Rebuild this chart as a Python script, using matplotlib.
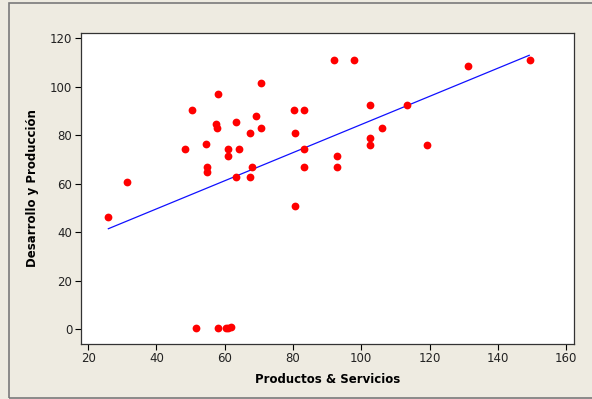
import matplotlib
matplotlib.use("Agg")
import matplotlib.pyplot as plt
from matplotlib.patches import Rectangle

# datos
prod_serv = [25.9, 31.3, 48.3, 50.4, 54.6, 54.9, 54.9, 57.9, 57.3, 57.6,
             60.9, 60.9, 63.4, 64.3, 63.4, 67.3, 67.9, 67.3, 69.1, 70.6,
             70.6, 80.3, 83.3, 80.6, 83.3, 83.3, 80.6, 92.1, 97.9, 102.6,
             93.0, 93.0, 102.6, 102.6, 106.1, 113.5, 119.3, 131.4, 149.5,
             51.5, 57.9, 60.3, 61.0, 61.8]
des_prod = [46.4, 60.9, 74.2, 90.3, 76.3, 66.9, 64.7, 97.2, 84.8, 82.9,
            74.2, 71.5, 85.6, 74.2, 62.7, 80.8, 66.9, 62.7, 88.0, 101.7,
            83.0, 90.3, 90.3, 80.8, 74.2, 66.9, 50.8, 111.1, 111.1, 92.4,
            71.6, 66.9, 78.8, 76.1, 83.0, 92.4, 76.1, 108.6, 111.1,
            0.5, 0.5, 0.5, 0.6, 1.0]

# recta de regresion (extremos)
fit_x = [25.9, 149.2]
fit_y = [41.5, 113.0]

xticks = [20, 40, 60, 80, 100, 120, 140, 160]
yticks = [0, 20, 40, 60, 80, 100, 120]

bg = "#eeebe1"
fig = plt.figure(figsize=(5.92, 3.99), dpi=100, facecolor=bg)
ax = fig.add_axes([0.1363, 0.1386, 0.8338, 0.7794])
ax.set_facecolor("white")

# marco gris de la figura (sin lado derecho visible)
fig.patches.append(Rectangle((9/592, 1.3/399), 1.2, 395/399, transform=fig.transFigure,
                             fill=False, edgecolor="#7a7a7a", linewidth=1.2))

ax.plot(fit_x, fit_y, color="#1010ff", linewidth=0.9, zorder=2)
ax.plot(prod_serv, des_prod, "o", color="red", markersize=5.6,
        markeredgewidth=0, zorder=3)

ax.set_xlim(17.8, 162.4)
ax.set_ylim(-5.9, 122.3)
ax.set_xticks(xticks)
ax.set_yticks(yticks)
ax.tick_params(direction="out", length=4, width=0.8, colors="black",
               labelsize=8.5, labelcolor="#222222", pad=2)
for s in ax.spines.values():
    s.set_color("#333333")
    s.set_linewidth(0.9)

ax.set_xlabel("Productos & Servicios", fontsize=8.5, fontweight="bold", labelpad=6)
ax.set_ylabel("Desarrollo y Producción", fontsize=8.5, fontweight="bold", labelpad=8)

fig.savefig("out.png", dpi=100, facecolor=bg)
